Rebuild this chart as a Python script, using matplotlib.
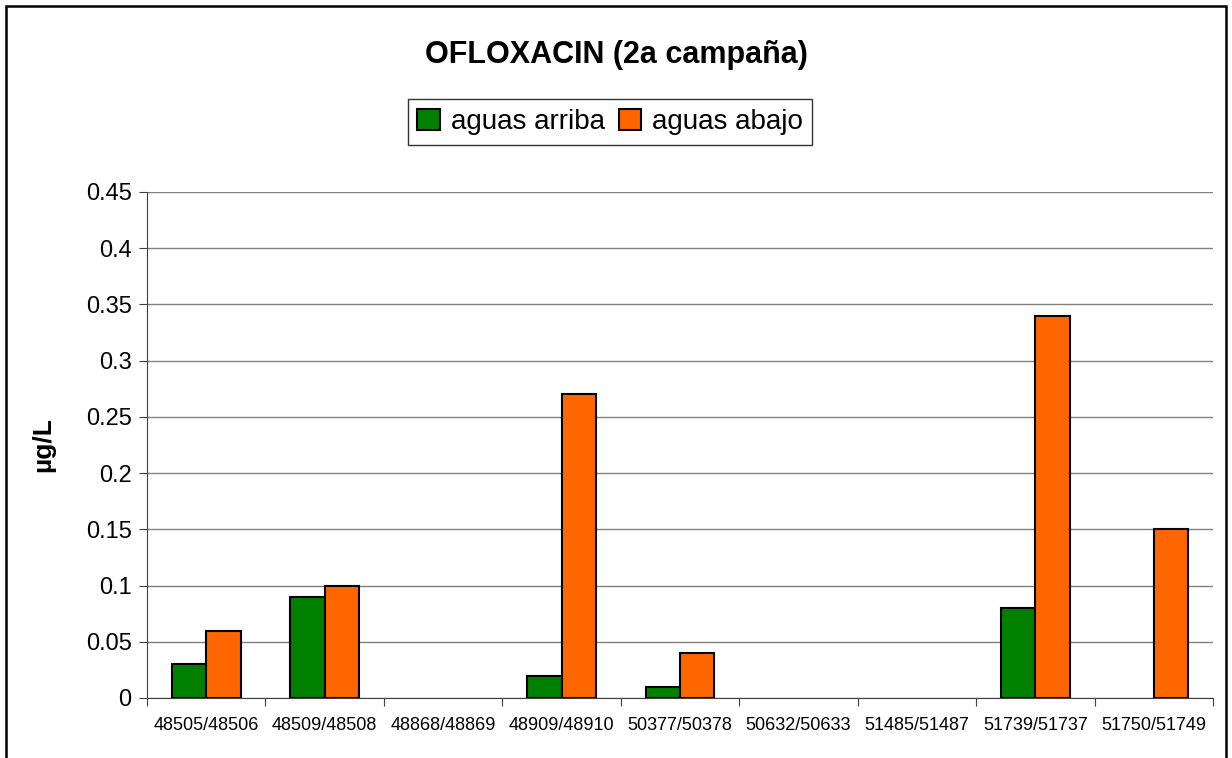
import numpy as np
import matplotlib
matplotlib.use('Agg')
import matplotlib.pyplot as plt
from matplotlib.patches import Rectangle

plt.rcParams['font.family'] = ['Liberation Sans', 'DejaVu Sans']

# datos
muestras = ['48505/48506', '48509/48508', '48868/48869', '48909/48910', '50377/50378',
            '50632/50633', '51485/51487', '51739/51737', '51750/51749']
aguas_arriba = [0.03, 0.09, 0, 0.02, 0.01, 0, 0, 0.08, 0]
aguas_abajo = [0.06, 0.10, 0, 0.27, 0.04, 0, 0, 0.34, 0.15]
y_ticks = [0, 0.05, 0.1, 0.15, 0.2, 0.25, 0.3, 0.35, 0.4, 0.45]
y_labels = ['0', '0.05', '0.1', '0.15', '0.2', '0.25', '0.3', '0.35', '0.4', '0.45']

fig = plt.figure(figsize=(12.32, 7.58), dpi=100)
ax = fig.add_axes([147/1232, 1 - 698/758, (1213-147)/1232, (698-192)/758])

x = np.arange(len(muestras))
w = 0.29
b1 = ax.bar(x - w/2, aguas_arriba, w, color='#008000', edgecolor='black', linewidth=1.5,
            label='aguas arriba', zorder=3)
b2 = ax.bar(x + w/2, aguas_abajo, w, color='#FF6600', edgecolor='black', linewidth=1.5,
            label='aguas abajo', zorder=3)
# las barras con valor 0 no se ven
for barras, vals in [(b1, aguas_arriba), (b2, aguas_abajo)]:
    for r, v in zip(barras, vals):
        if v == 0:
            r.set_visible(False)

ax.set_xlim(-0.5, len(muestras) - 0.5)
ax.set_ylim(0, 0.45)
ax.set_yticks(y_ticks)
ax.set_yticklabels(y_labels, fontsize=17)
ax.yaxis.grid(True, color='#808080', linewidth=1)
ax.set_axisbelow(True)

# ticks del eje x entre categorias
ax.set_xticks(np.arange(-0.5, len(muestras)), minor=False)
ax.set_xticklabels([])
ax.set_xticks(x, minor=True)
ax.set_xticklabels(muestras, minor=True, fontsize=13)
ax.tick_params(axis='x', which='minor', length=0, pad=14)
ax.tick_params(axis='x', which='major', length=6, color='#404040')
ax.tick_params(axis='y', length=6, color='#404040', pad=5)

for s in ['top', 'right']:
    ax.spines[s].set_visible(False)
ax.spines['left'].set_color('#404040')
ax.spines['bottom'].set_color('#404040')

ax.set_ylabel('µg/L', fontsize=19, fontweight='bold', labelpad=22)

fig.text(0.5, 1 - 55/758, 'OFLOXACIN (2a campaña)', ha='center', va='center',
         fontsize=22, fontweight='bold')

leg = fig.legend(loc='center', bbox_to_anchor=(610/1232, 1 - 122/758), ncol=2,
                 fontsize=20, frameon=True, fancybox=False, handlelength=0.8,
                 handleheight=0.8, handletextpad=0.4, columnspacing=0.5,
                 borderpad=0.35)
leg.get_frame().set_edgecolor('black')
leg.get_frame().set_linewidth(1)

# borde exterior
fig.patches.append(Rectangle((6/1232, -0.05), (1226-6)/1232, 1.05 - 6/758,
                             transform=fig.transFigure, fill=False,
                             edgecolor='black', linewidth=1.8))

fig.savefig('out.png', dpi=100)
